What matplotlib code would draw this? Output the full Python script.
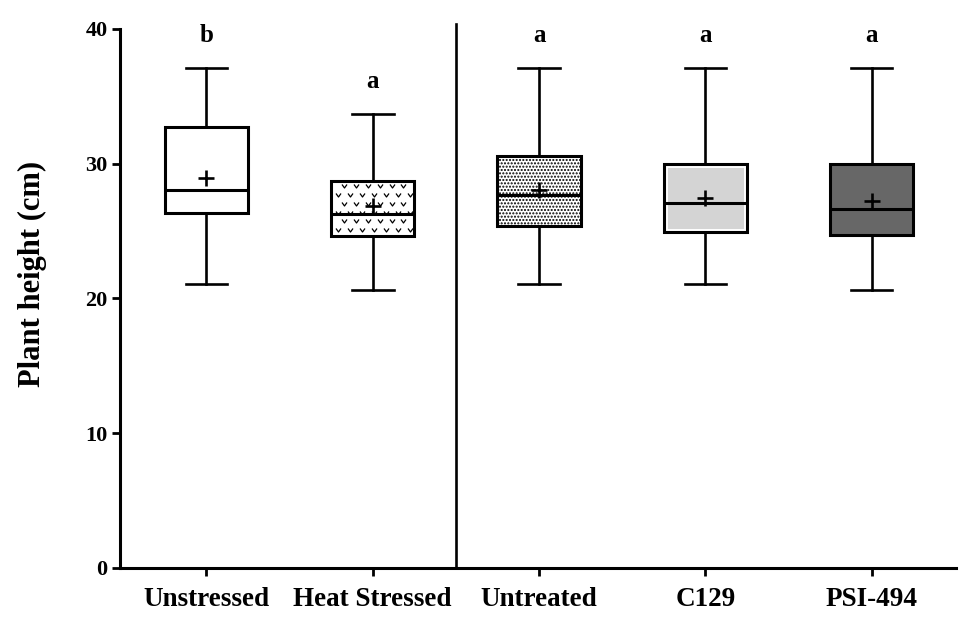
import matplotlib
matplotlib.use("Agg")
import matplotlib.pyplot as plt
from matplotlib.path import Path
from matplotlib.patches import PathPatch
import numpy as np

categories = ["Unstressed", "Heat Stressed", "Untreated", "C129", "PSI-494"]
whisker_low = [21.05, 20.6, 21.05, 21.05, 20.6]
q1 = [26.35, 24.67, 25.36, 24.92, 24.7]
medians = [28.02, 26.27, 27.65, 27.06, 26.64]
q3 = [32.75, 28.74, 30.61, 29.97, 29.97]
whisker_high = [37.07, 33.69, 37.07, 37.07, 37.07]
means = [28.93, 26.84, 28.07, 27.45, 27.26]
letters = ["b", "a", "a", "a", "a"]
yticks = [0, 10, 20, 30, 40]

plt.rcParams['font.family'] = ['Liberation Serif', 'DejaVu Serif']
plt.rcParams['font.weight'] = 'bold'
plt.rcParams['hatch.linewidth'] = 1.0

fig = plt.figure(figsize=(9.75, 6.23), dpi=100)
ax = fig.add_axes([0.123, 0.0883, 0.858, 0.8652])

stats = []
for i, c in enumerate(categories):
    stats.append(dict(label=c, whislo=whisker_low[i], q1=q1[i], med=medians[i],
                      q3=q3[i], whishi=whisker_high[i], mean=means[i], fliers=[]))

positions = np.arange(len(categories))
bp = ax.bxp(stats, positions=positions, widths=0.5, patch_artist=True,
            showmeans=True, showfliers=False,
            boxprops=dict(linewidth=2.2, edgecolor='black'),
            medianprops=dict(color='black', linewidth=2.2),
            whiskerprops=dict(color='black', linewidth=1.9),
            capprops=dict(color='black', linewidth=1.9),
            capwidths=0.25,
            meanprops=dict(marker='+', markersize=12, markeredgewidth=1.9,
                           markeredgecolor='black', markerfacecolor='black'))

faces = ['white', 'white', 'white', '#d4d4d4', '#676767']
hatches = [None, None, '.....', None, None]
for b, fc, h in zip(bp['boxes'], faces, hatches):
    b.set_facecolor(fc)
    if h:
        b.set_hatch(h)

# white inner rim on the C129 box
cb = bp['boxes'][3]
cb.set_edgecolor('white')
cb.set_linewidth(5)
ax.add_patch(PathPatch(cb.get_path(), transform=cb.get_transform(), facecolor='none',
                       edgecolor='black', linewidth=2.2, zorder=2.6))

# chevron texture inside the Heat Stressed box
chev = Path([(-1, 0.8), (0, -0.6), (1, 0.8)], [Path.MOVETO, Path.LINETO, Path.LINETO])
hb = bp['boxes'][1]
xs_all, ys_all = [], []
ylev = np.arange(q1[1] + 0.4, q3[1], 0.65)
for r, yy in enumerate(ylev):
    off = 0.035 if r % 2 else 0.0
    xx = np.arange(positions[1] - 0.25 + 0.04 + off, positions[1] + 0.25, 0.072)
    xs_all.extend(xx)
    ys_all.extend([yy] * len(xx))
tex, = ax.plot(xs_all, ys_all, linestyle='none', marker=chev, markersize=3.6,
               markerfacecolor='none', markeredgecolor='black', markeredgewidth=0.9,
               zorder=2.5)
tex.set_clip_path(hb)
for art in bp['medians'] + bp['means'] + bp['whiskers'] + bp['caps']:
    art.set_zorder(3)

for i, l in enumerate(letters):
    ax.text(positions[i], whisker_high[i] + 1.95, l, ha='center', va='baseline',
            fontsize=18, fontweight='bold')

# divider between groups
ax.plot([1.5, 1.5], [0, 40.4], color='black', linewidth=1.9, clip_on=False)

ax.set_xlim(-0.52, 4.51)
ax.set_ylim(0, 40)
ax.set_yticks(yticks)
ax.set_xticks(positions)
ax.set_xticklabels(categories, fontsize=19.5, fontweight='bold')
ax.tick_params(axis='y', labelsize=16, width=2, length=6, direction='out', pad=3)
ax.tick_params(axis='x', width=2, length=6, direction='out', pad=8)
for lab in ax.get_yticklabels():
    lab.set_fontweight('bold')

ax.spines['top'].set_visible(False)
ax.spines['right'].set_visible(False)
ax.spines['left'].set_linewidth(2.2)
ax.spines['bottom'].set_linewidth(2.2)

ax.set_ylabel("Plant height (cm)", fontsize=22, fontweight='bold')
ax.yaxis.set_label_coords(-0.087, 0.545)

fig.savefig("out.png", dpi=100)
